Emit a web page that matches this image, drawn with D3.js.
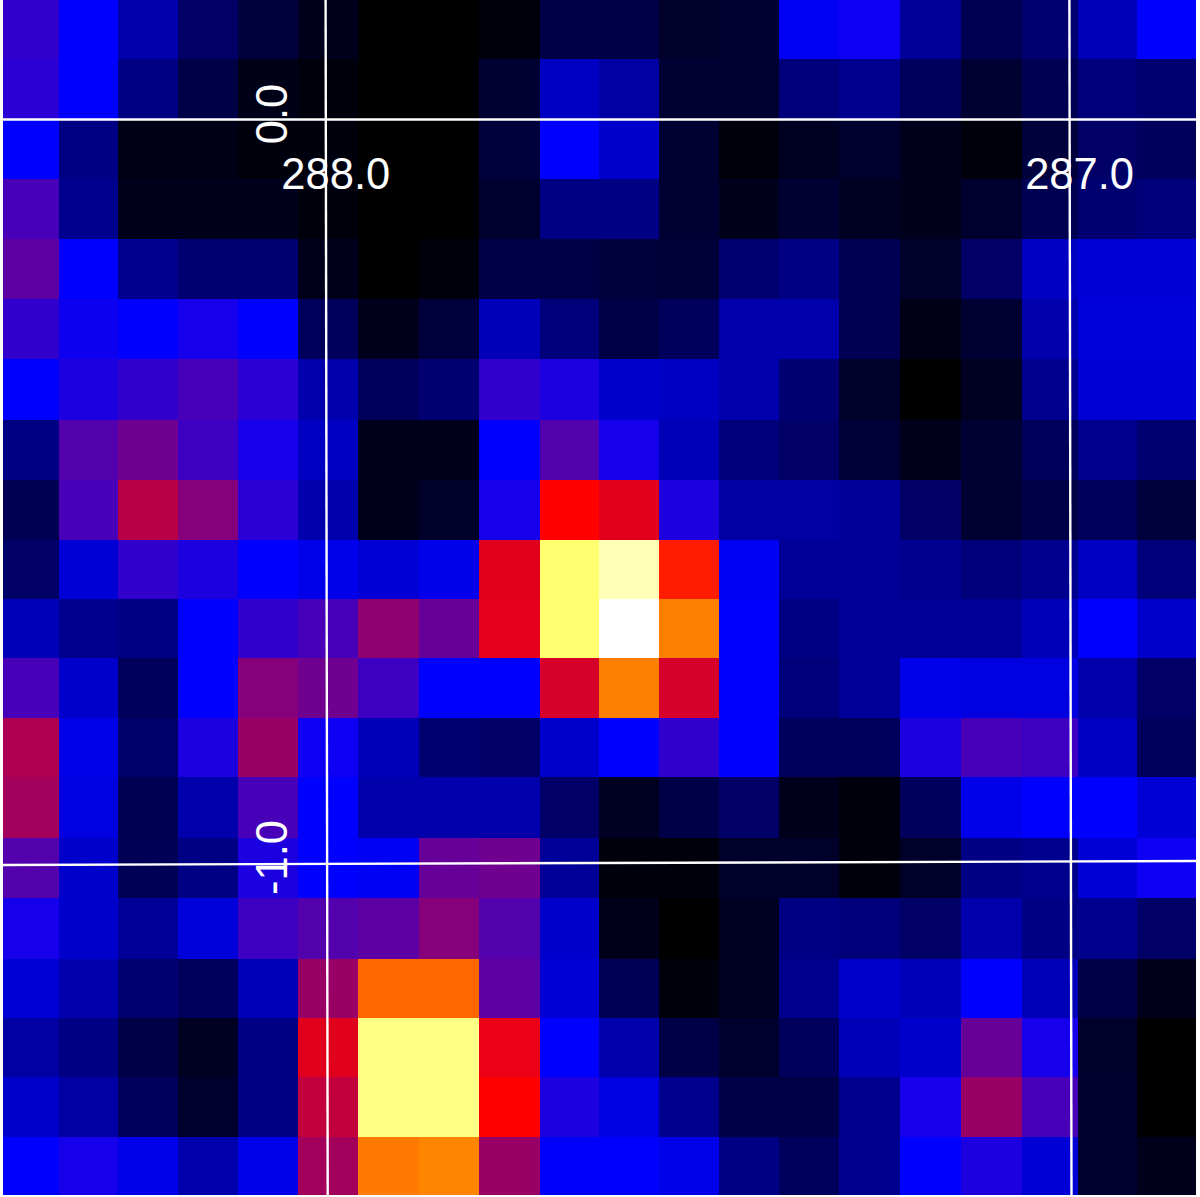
<!DOCTYPE html>
<html>
<head>
<meta charset="utf-8">
<script src="https://cdn.jsdelivr.net/npm/d3@7"></script>
<style>html,body{margin:0;padding:0;background:#fff;overflow:hidden}svg{display:block}</style>
</head>
<body>
<svg id="chart" width="1200" height="1197"></svg>
<script>
// Image intensity, percent of the display range, row by row from the top
const row00 = [30,25,17,10,6,3,0,0,1,7,7,4,5,24,26,15,8,11,18,25];
const row01 = [29,25,13,7,2,1,0.5,0.5,5,19,16,5,5,12,14,9,5,8,12,11];
const row02 = [25,13,2,2,1,1,0.5,0.5,6,25,20,5,1.5,3.5,4.5,3,1.5,6,10,9];
const row03 = [32,14,3,3,3,1.5,0.5,0.5,4.5,13,13,5,3,5,3.5,2.5,4.5,8,11,12];
const row04 = [34,25,14,11,11,3,0,1,7,7,6,5.5,11,13,8,4,10,19,21,21];
const row05 = [30,26.5,25,27,25,9,3,6,18,12,7,9,17,17,8,2,5,17,21.5,21.5];
const row06 = [25,28,30,32,29,17,9,11,30,28,20,19,17,11,4,0.5,3.5,14,21,21];
const row07 = [13,33,36,31,27,19,3,3,25,33,27,18,12,10,5.5,2.5,5,9,14,11];
const row08 = [8,32,43,38,29,17,3,4,27,50,47,28,16,16,15,10,5,7,9,6];
const row09 = [10,21,30,28,25,23,21,23,47,86,93,53,24,15,15,14,12,14,19,12];
const row10 = [18,14,13,25,30,32,39,35,47.5,86,100,62.5,25,13,15,15,15,18,25,20];
const row11 = [32,20,9,25,38,36,31,25,25,46,62.5,46,25,12,15,23,22,22,17,10];
const row12 = [42,23,10.5,28,40,26,18,11,10,20,25,30,25,9,9,28,32,31,19,9];
const row13 = [41,22,8,17,32,25,17,17,17,10,3.5,7,10,2.5,1,9,23,25,25,21];
const row14 = [33,20,8.5,13,28,25,24,35,36,15,1.5,1,4,4,1,4,13,14,21,26];
const row15 = [27,20,15,21.5,31,33,34,38,33,20,3,0.5,3.5,13,12,10,17,13,14,10];
const row16 = [21,17,11,9,18,40,60,60,34,21,8.5,1.5,3.5,14,20,18,25,18,7,3];
const row17 = [16,13,7,3.5,13,47,88,88,48,25,17,7,4.5,9,18,20,35,27,4,0.5];
const row18 = [20,16,9,4.5,13,44,88,88,50,28,22,14,7,7,14,27,40,32,4.5,0];
const row19 = [25,27,23,17,23,41,62,63,40,25.5,25,23,13,9,14,25,28,21,4.5,2.5];
const rows = [row00,row01,row02,row03,row04,row05,row06,row07,row08,row09,
              row10,row11,row12,row13,row14,row15,row16,row17,row18,row19];

// Colour map stops (black, blue, red, yellow, white)
const colorStops = [0,25,50,75,100];
const colorNames = ["#000000","#0000ff","#ff0000","#ffff00","#ffffff"];

// Sky coordinate grid
const lonTicks = [288,287];
const latTicks = [0,-1];
const lonLabels = ["288.0","287.0"];
const latLabels = ["0.0","-1.0"];

const W = 1200, H = 1197;
const svg = d3.select("#chart");

// Pixel index to screen position; the resampled image has slightly uneven pixels
const col = d3.scaleLinear().domain([0,1,5,9,12,14,17,18,20]).range([2.5,58.5,298,539.5,718.5,838.5,1021.5,1078,1196]);
const row = d3.scaleLinear().domain([0,1,9,10,12,13,14,16,19,20]).range([0,59.3,539.6,599,717.5,776.5,838,958.6,1136.5,1194.5]);
const color = d3.scaleLinear().domain(colorStops).range(colorNames);

const defs = svg.append("defs");
defs.append("filter").attr("id","soft").attr("filterUnits","userSpaceOnUse")
  .attr("x",0).attr("y",-5).attr("width",W).attr("height",H+5)
  .append("feGaussianBlur").attr("stdDeviation",0.6);

const cells = svg.append("g").attr("filter","url(#soft)").attr("shape-rendering","crispEdges");
cells.selectAll("g").data(rows).join("g")
  .selectAll("rect").data((d,r)=>d.map((v,c)=>({v,r,c}))).join("rect")
  .attr("x",d=>Math.round(col(d.c)))
  .attr("y",d=>Math.round(row(d.r)) - (d.r===0?5:0))
  .attr("width",d=>Math.round(col(d.c+1))-Math.round(col(d.c)))
  .attr("height",d=>Math.round(row(d.r+1))-Math.round(row(d.r)) + (d.r===0?5:0))
  .attr("fill",d=>color(d.v));

// 744 px per degree, with the slight convergence of the sky projection
const lonX = d3.scaleLinear().domain([288,287]).range([325.6,1069.4]);
const latY = d3.scaleLinear().domain([0,-1]).range([119.5,863]);
const skyX = (lon,y)=>lonX(lon)+2.1*(y/H);
const skyY = (lat,x)=>latY(lat)+(lat===0?0:2-4*(x/W));

const labels = svg.append("g").attr("fill","#fff")
  .attr("font-family","'Liberation Sans',Arial,sans-serif").attr("font-size",43.5);

labels.selectAll("text.lon").data(lonTicks).join("text").attr("class","lon")
  .attr("x",d=>lonX(d)+10.2).attr("y",189).attr("text-anchor","middle")
  .text((d,i)=>lonLabels[i]);

labels.selectAll("text.lat").data(latTicks).join("text").attr("class","lat")
  .attr("text-anchor","middle")
  .attr("transform",d=>`translate(287,${latY(d)-5.5}) rotate(-90)`)
  .text((d,i)=>latLabels[i]);

const lines = svg.append("g").attr("stroke","#fff").attr("stroke-width",2.4).attr("fill","none");
lines.selectAll("line.lon").data(lonTicks).join("line").attr("class","lon")
  .attr("x1",d=>skyX(d,0)).attr("y1",0).attr("x2",d=>skyX(d,1195)).attr("y2",1195);
lines.selectAll("line.lat").data(latTicks).join("line").attr("class","lat")
  .attr("x1",2).attr("y1",d=>skyY(d,2)).attr("x2",1196).attr("y2",d=>skyY(d,1196));
</script>
</body>
</html>
